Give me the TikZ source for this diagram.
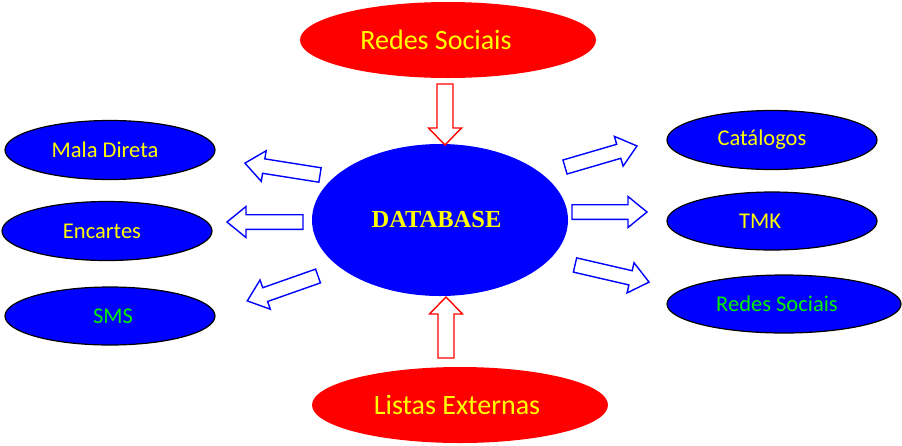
\documentclass[tikz,border=0pt]{standalone}
\usepackage{fontspec}
\setmainfont{Carlito}
\newfontfamily\dbfont{Liberation Serif}
\usetikzlibrary{shapes.geometric}
\definecolor{pblue}{RGB}{0,0,255}
\definecolor{pred}{RGB}{255,0,0}
\definecolor{pyellow}{RGB}{255,255,0}
\definecolor{pgreen}{RGB}{0,240,0}
\newcommand\blockarrow[8]{% x y angle length shafthalf headhalf headlen colour
  \draw[#8, line width=1.4pt, line join=miter, shift={(#1,#2)}, rotate=#3]
    (0,-#5) -- (#4-#7,-#5) -- (#4-#7,-#6) -- (#4,0) -- (#4-#7,#6) -- (#4-#7,#5) -- (0,#5) -- cycle;}
\begin{document}
\begin{tikzpicture}[x=1pt,y=-1pt,
  bluebox/.style={ellipse, draw=black, line width=1.2pt, fill=pblue, inner sep=0pt,
    minimum width=210pt, minimum height=59pt, font=\fontsize{22.5}{25}\selectfont},
  redbox/.style={ellipse, fill=pred, inner sep=0pt, minimum width=296pt, minimum height=76pt,
    text=pyellow, font=\fontsize{28}{31}\selectfont},
  ylw/.style={text=pyellow}, grn/.style={text=pgreen}]
\useasboundingbox (0,0) rectangle (902,445);
% top / bottom red ellipses
\node[redbox] (redes) at (448,40) {\hspace*{-24pt}Redes Sociais};
\node[redbox] (listas) at (460,405) {\hspace*{-6pt}Listas Externas};
% central
\node[ellipse, fill=pblue, inner sep=0pt, minimum width=256pt, minimum height=152pt,
  text=pyellow, font=\dbfont\bfseries\fontsize{24.5}{28}\selectfont] (db) at (440,220) {\hspace*{-7pt}DATABASE};
% left
\node[bluebox, ylw] (mala) at (110,150) {\hspace*{-10pt}Mala Direta};
\node[bluebox, ylw] (encartes) at (107,231) {\hspace*{-10pt}Encartes};
\node[bluebox, grn, minimum height=58pt] (sms) at (110,316) {\hspace*{6pt}SMS};
% right
\node[bluebox, ylw] (cat) at (772,140) {\hspace*{-20pt}Catálogos};
\node[bluebox, ylw, minimum height=58pt] (tmk) at (772,221) {\hspace*{-24pt}TMK};
\node[bluebox, grn, minimum width=234pt, minimum height=58pt] (rs) at (784,304) {\hspace*{-14pt}Redes Sociais};
% red arrows
\blockarrow{445}{84}{-90}{61}{8}{16.5}{17}{pred}
\blockarrow{446}{358}{90}{61}{8}{16.5}{17}{pred}
% blue arrows right
\blockarrow{565}{167}{16.3}{75}{7.3}{15.5}{19}{pblue}
\blockarrow{572}{212}{0}{75}{7.3}{15.5}{19}{pblue}
\blockarrow{575}{265}{-13}{76}{7.3}{15.5}{19}{pblue}
% blue arrows left
\blockarrow{320}{175}{171}{76}{7.3}{15.5}{19}{pblue}
\blockarrow{303}{222}{180}{76}{7.3}{15.5}{19}{pblue}
\blockarrow{318}{276}{-160.6}{75}{7.3}{15.5}{19}{pblue}
\end{tikzpicture}
\end{document}
